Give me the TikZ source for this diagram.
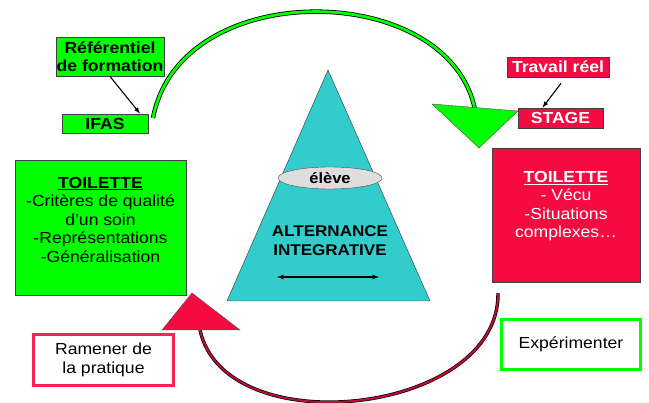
\documentclass[tikz,border=0pt]{standalone}
\usepackage{fontspec}
\setmainfont{Liberation Sans}[FakeStretch = 1.1]
\usetikzlibrary{shapes.geometric}

\definecolor{vert}{RGB}{0, 255, 0}
\definecolor{rouge}{RGB}{245, 10, 65}
\definecolor{bordeaux}{RGB}{185, 15, 55}
\definecolor{turquoise}{RGB}{51, 204, 204}
\definecolor{gris}{RGB}{222, 222, 222}

\begin{document}
\begin{tikzpicture}[x = 1pt, y = -1pt,
  every node/.style = {inner sep = 0pt, font = \fontsize{16}{18.5}\selectfont},
  boite/.style = {draw = black!75, line width = 0.8pt, align = center},
  cadre/.style = {fill = white, line width = 3pt, align = center}]
  \useasboundingbox (0, 0) rectangle (649, 403);

  % the two big loops
  \draw[line width = 0.8pt, double = vert, double distance = 2.8pt]
    (153, 118) .. controls (180, -25) and (450, -20) .. (475, 110);
  \draw[line width = 0.7pt, double = bordeaux, double distance = 2pt]
    (498, 293) .. controls (500, 415) and (225, 445) .. (200, 330);

  \filldraw[fill = vert, draw = black!70] (432, 104) -- (518, 111) -- (479, 148) -- cycle;
  \filldraw[fill = rouge, draw = black!70] (192, 293) -- (162, 330) -- (240, 330) -- cycle;

  % centre
  \filldraw[fill = turquoise, draw = black!80] (328, 70) -- (227, 301) -- (430, 301) -- cycle;
  \node[ellipse, draw = black!70, fill = gris, minimum width = 104, minimum height = 22,
    font = \fontsize{15}{17}\selectfont\bfseries] (eleve) at (330, 178) {élève};
  \node[align = center, font = \fontsize{15.5}{19}\selectfont\bfseries] (alt) at (330, 241)
    {ALTERNANCE\\INTEGRATIVE};
  \coordinate (fl) at (277, 277);
  \coordinate (fr) at (379, 277);
  \draw[latex-latex, line width = 1.2pt] (fl) -- (fr);

  % school side
  \node[boite, fill = vert, minimum width = 108, minimum height = 39,
    font = \fontsize{16}{18.5}\selectfont\bfseries] (ref) at (110, 56.5)
    {Référentiel\\de formation};
  \node[boite, fill = vert, minimum width = 86, minimum height = 19,
    font = \fontsize{16}{18.5}\selectfont\bfseries] (ifas) at (105, 123.5) {IFAS};
  \draw[-latex, line width = 1.1pt] (ref.south) -- ([xshift = 35pt]ifas.north);

  \node[boite, fill = vert, minimum width = 171, minimum height = 135] (ltoil) at (100.5, 227.5) {};
  \node[align = center] (ltxt) at ([yshift = 8pt]ltoil.center)
    {\underline{\textbf{TOILETTE}}\\-Critères de qualité\\d’un soin\\-Représentations\\-Généralisation};

  % work side
  \node[boite, fill = rouge, text = white, minimum width = 102, minimum height = 20,
    font = \fontsize{16}{18.5}\selectfont\bfseries] (trav) at (558, 67) {Travail réel};
  \node[boite, fill = rouge, text = white, minimum width = 85, minimum height = 20,
    font = \fontsize{16}{18.5}\selectfont\bfseries] (stage) at (560.5, 118) {STAGE};
  \draw[-latex, line width = 1.1pt] ([shift = {(3pt, -6pt)}]trav.south) -- ([xshift = -18pt]stage.north);

  \node[boite, fill = rouge, minimum width = 148, minimum height = 134] (rtoil) at (566, 215) {};
  \node[align = center, text = white] (rtxt) at ([yshift = 9pt]rtoil.center)
    {\underline{\textbf{TOILETTE}}\\- Vécu\\-Situations\\complexes…};

  % bottom boxes
  \node[cadre, draw = rouge!90, minimum width = 140, minimum height = 51] (ram) at (103.5, 360)
    {Ramener de\\la pratique};
  \node[cadre, draw = vert, minimum width = 139, minimum height = 50] (exp) at (571, 344.5)
    {Expérimenter};
\end{tikzpicture}
\end{document}
